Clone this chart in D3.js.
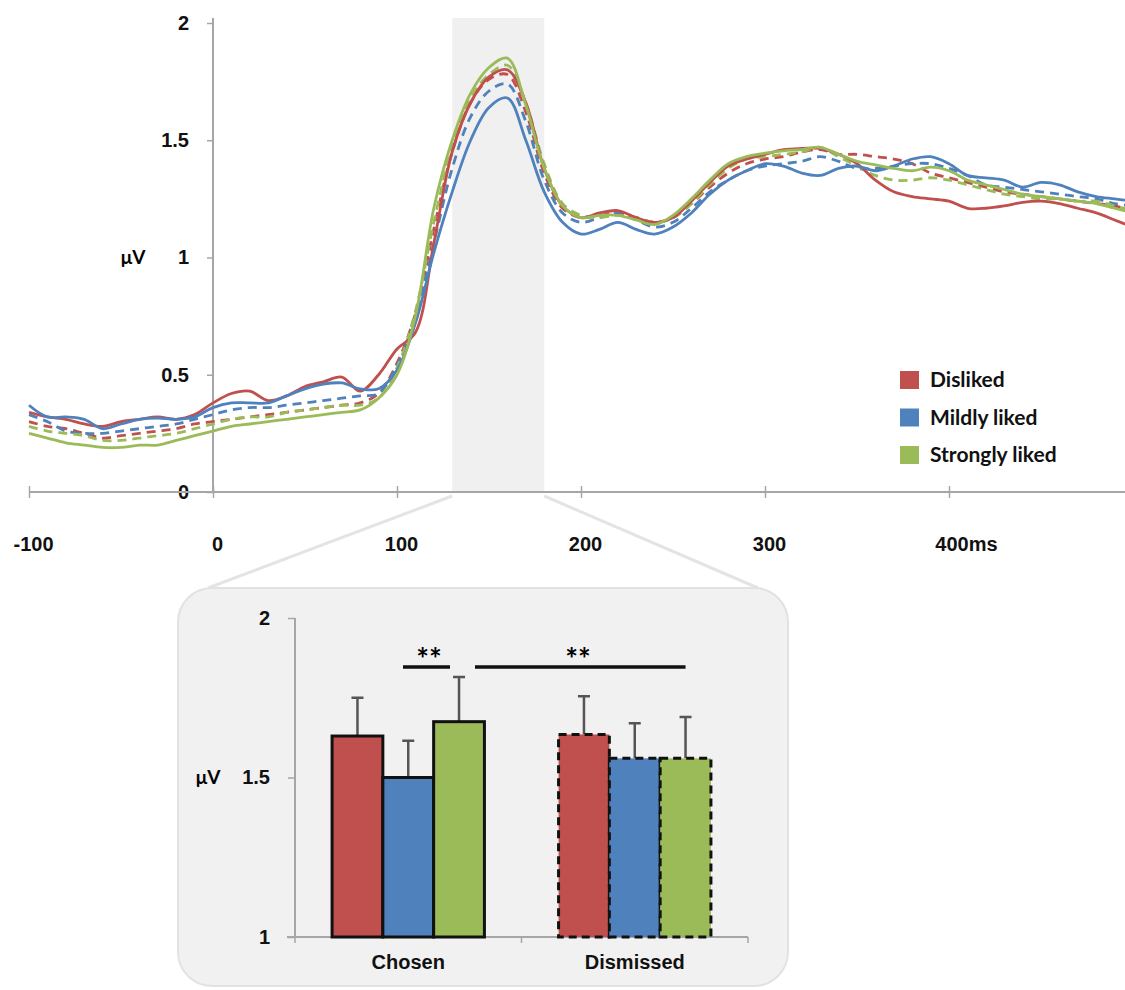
<!DOCTYPE html>
<html>
<head>
<meta charset="utf-8">
<script src="https://cdn.jsdelivr.net/npm/d3@7"></script>
<style>
  body { margin: 0; background: #fff; }
  svg { display: block; font-family: Lato, 'Open Sans', sans-serif; font-weight: bold; }
</style>
</head>
<body>
<div id="chart"></div>
<script>
// ERP time points (ms)
const times = [-100, -90, -80, -70, -60, -50, -40, -30, -20, -10, 0, 10, 20, 30, 40, 50, 60, 70, 80, 90,
  100, 110, 120, 130, 140, 150, 160, 170, 180, 190, 200, 210, 220, 230, 240, 250, 260, 270, 280, 290,
  300, 310, 320, 330, 340, 350, 360, 370, 380, 390, 400, 410, 420, 430, 440, 450, 460, 470, 480, 490, 500]

// chosen (solid)
const dislikedChosen = [0.34, 0.32, 0.31, 0.29, 0.28, 0.30, 0.31, 0.32, 0.31, 0.33, 0.38, 0.42, 0.43, 0.39, 0.41, 0.45, 0.47, 0.49, 0.43, 0.50,
  0.61, 0.68, 1.06, 1.45, 1.66, 1.77, 1.80, 1.66, 1.38, 1.22, 1.17, 1.19, 1.20, 1.17, 1.15, 1.17, 1.24, 1.32, 1.39, 1.42,
  1.44, 1.46, 1.465, 1.465, 1.44, 1.40, 1.33, 1.28, 1.26, 1.25, 1.24, 1.21, 1.21, 1.22, 1.235, 1.24, 1.23, 1.21, 1.19, 1.16, 1.13]
const mildChosen = [0.37, 0.32, 0.32, 0.31, 0.27, 0.29, 0.31, 0.315, 0.31, 0.32, 0.36, 0.38, 0.38, 0.38, 0.41, 0.44, 0.46, 0.465, 0.44, 0.44,
  0.52, 0.72, 1.02, 1.28, 1.50, 1.64, 1.68, 1.50, 1.28, 1.15, 1.10, 1.12, 1.15, 1.12, 1.10, 1.13, 1.19, 1.27, 1.33, 1.37,
  1.40, 1.39, 1.36, 1.35, 1.38, 1.39, 1.37, 1.39, 1.42, 1.43, 1.40, 1.35, 1.34, 1.33, 1.30, 1.32, 1.31, 1.28, 1.26, 1.25, 1.24]
const strongChosen = [0.25, 0.23, 0.21, 0.20, 0.19, 0.19, 0.20, 0.20, 0.22, 0.24, 0.26, 0.28, 0.29, 0.30, 0.31, 0.32, 0.33, 0.34, 0.35, 0.40,
  0.50, 0.75, 1.21, 1.50, 1.70, 1.81, 1.85, 1.65, 1.38, 1.22, 1.17, 1.18, 1.18, 1.16, 1.14, 1.18, 1.25, 1.33, 1.40, 1.43,
  1.445, 1.455, 1.46, 1.47, 1.44, 1.41, 1.395, 1.38, 1.37, 1.385, 1.37, 1.33, 1.31, 1.29, 1.27, 1.26, 1.25, 1.24, 1.23, 1.21, 1.19]

// dismissed (dashed)
const dislikedDismissed = [0.30, 0.28, 0.27, 0.25, 0.23, 0.24, 0.25, 0.26, 0.27, 0.29, 0.30, 0.31, 0.32, 0.33, 0.34, 0.35, 0.36, 0.37, 0.38, 0.42,
  0.55, 0.76, 1.12, 1.45, 1.66, 1.76, 1.78, 1.62, 1.36, 1.21, 1.17, 1.18, 1.19, 1.17, 1.15, 1.17, 1.23, 1.30, 1.36, 1.40,
  1.42, 1.43, 1.45, 1.46, 1.44, 1.44, 1.43, 1.42, 1.40, 1.36, 1.34, 1.32, 1.30, 1.28, 1.27, 1.26, 1.25, 1.24, 1.23, 1.22, 1.20]
const mildDismissed = [0.33, 0.30, 0.26, 0.25, 0.25, 0.26, 0.27, 0.28, 0.29, 0.31, 0.33, 0.35, 0.36, 0.36, 0.37, 0.38, 0.39, 0.40, 0.41, 0.42,
  0.54, 0.74, 1.06, 1.38, 1.60, 1.71, 1.74, 1.58, 1.33, 1.19, 1.15, 1.17, 1.19, 1.16, 1.13, 1.15, 1.21, 1.28, 1.33, 1.37,
  1.39, 1.40, 1.41, 1.43, 1.41, 1.38, 1.38, 1.39, 1.40, 1.40, 1.38, 1.35, 1.31, 1.30, 1.29, 1.28, 1.27, 1.26, 1.25, 1.23, 1.22]
const strongDismissed = [0.28, 0.26, 0.25, 0.24, 0.22, 0.22, 0.23, 0.24, 0.25, 0.27, 0.29, 0.31, 0.32, 0.32, 0.34, 0.35, 0.36, 0.37, 0.37, 0.40,
  0.53, 0.77, 1.15, 1.47, 1.68, 1.78, 1.82, 1.66, 1.40, 1.23, 1.18, 1.17, 1.18, 1.17, 1.15, 1.17, 1.23, 1.31, 1.38, 1.42,
  1.43, 1.44, 1.45, 1.47, 1.43, 1.39, 1.35, 1.33, 1.33, 1.34, 1.33, 1.31, 1.29, 1.27, 1.26, 1.25, 1.25, 1.24, 1.24, 1.22, 1.20]

const categories = ['Disliked', 'Mildly liked', 'Strongly liked']
const colors = ['#c0504d', '#4f81bd', '#9bbb59']
const xTicks = [-100, 0, 100, 200, 300, 400]
const yTicks = [0, 0.5, 1, 1.5, 2]
const window_ms = [130, 180]

// inset bar data (mean amplitude 130-180 ms)
const barGroups = ['Chosen', 'Dismissed']
const chosenMeans = [1.63, 1.50, 1.675]
const chosenErr = [0.12, 0.115, 0.14]
const dismissedMeans = [1.635, 1.56, 1.56]
const dismissedErr = [0.12, 0.11, 0.13]
const barTicks = [1, 1.5, 2]

const width = 1125
const height = 990

const svg = d3.select('#chart')
  .append('svg')
  .attr('width', width)
  .attr('height', height)

const x = d3.scaleLinear().domain([-100, 500]).range([29, 1133])
const y = d3.scaleLinear().domain([0, 2]).range([492, 23])

// shaded analysis window
svg.append('rect')
  .attr('x', x(window_ms[0]))
  .attr('y', 18)
  .attr('width', x(window_ms[1]) - x(window_ms[0]))
  .attr('height', y(0) - 18)
  .attr('fill', '#f0f0f0')

// inset box + connectors
const box = { x: 178, y: 588, w: 610, h: 398 }
svg.append('line')
  .attr('x1', x(window_ms[0])).attr('y1', y(0) + 4)
  .attr('x2', box.x + 30).attr('y2', box.y)
  .attr('stroke', '#e4e4e4').attr('stroke-width', 3)
svg.append('line')
  .attr('x1', x(window_ms[1])).attr('y1', y(0) + 4)
  .attr('x2', box.x + box.w - 30).attr('y2', box.y)
  .attr('stroke', '#e4e4e4').attr('stroke-width', 3)
svg.append('rect')
  .attr('x', box.x).attr('y', box.y)
  .attr('width', box.w).attr('height', box.h)
  .attr('rx', 34)
  .attr('fill', '#f1f1f1')
  .attr('stroke', '#e2e2e2')
  .attr('stroke-width', 2)

// axes (top chart)
const yAxis = svg.append('g')
  .attr('transform', `translate(${x(0)},0)`)
  .call(d3.axisLeft(y).tickValues(yTicks).tickSize(6).tickPadding(18).tickFormat(d => d))
yAxis.select('.domain').attr('stroke', '#a6a6a6').attr('stroke-width', 2).attr('d', `M0,18V${y(0)}`)
yAxis.selectAll('.tick line').attr('stroke', '#a6a6a6').attr('stroke-width', 1.5)
yAxis.selectAll('.tick text').style('font-size', '20px').attr('fill', '#111')
svg.append('text')
  .attr('x', 133).attr('y', y(1))
  .attr('dy', '0.35em')
  .attr('text-anchor', 'middle')
  .style('font-size', '19px')
  .text('μV')

const xAxis = svg.append('g')
  .attr('transform', `translate(0,${y(0)})`)
  .call(d3.axisBottom(x).tickValues(xTicks).tickSize(6).tickPadding(39)
    .tickFormat(d => d === 400 ? '400ms' : d))
xAxis.select('.domain').attr('stroke', '#a6a6a6').attr('stroke-width', 2).attr('d', `M${x(-100)},0H${width}`)
xAxis.selectAll('.tick line').attr('stroke', '#a6a6a6').attr('stroke-width', 1.5).attr('y1', -6)
xAxis.selectAll('.tick text')
  .style('font-size', '20px').attr('fill', '#111')
  .attr('dx', d => d === 400 ? 17 : 4)

// ERP lines
const line = d3.line()
  .x((d, i) => x(times[i]))
  .y(d => y(d))
  .curve(d3.curveCatmullRom.alpha(0.5))

const chosenSeries = [dislikedChosen, mildChosen, strongChosen]
const dismissedSeries = [dislikedDismissed, mildDismissed, strongDismissed]

const plot = svg.append('g')
svg.append('clipPath').attr('id', 'clip')
  .append('rect').attr('x', 0).attr('y', 0).attr('width', width).attr('height', y(0))
plot.attr('clip-path', 'url(#clip)')

plot.selectAll('.dismissed')
  .data(dismissedSeries)
  .enter()
  .append('path')
  .attr('class', 'dismissed')
  .attr('d', d => line(d))
  .attr('fill', 'none')
  .attr('stroke', (d, i) => colors[i])
  .attr('stroke-width', 2.8)
  .attr('stroke-dasharray', '9,6')

plot.selectAll('.chosen')
  .data(chosenSeries)
  .enter()
  .append('path')
  .attr('class', 'chosen')
  .attr('d', d => line(d))
  .attr('fill', 'none')
  .attr('stroke', (d, i) => colors[i])
  .attr('stroke-width', 2.8)

// legend
const legend = svg.append('g').attr('transform', 'translate(900,380)')
legend.selectAll('rect')
  .data(categories)
  .enter()
  .append('rect')
  .attr('x', 0)
  .attr('y', (d, i) => i * 37.5 - 9)
  .attr('width', 19)
  .attr('height', 18)
  .attr('fill', (d, i) => colors[i])
legend.selectAll('text')
  .data(categories)
  .enter()
  .append('text')
  .attr('x', 30)
  .attr('y', (d, i) => i * 37.5)
  .attr('dy', '0.35em')
  .style('font-size', '21px')
  .attr('fill', '#111')
  .text(d => d)

// ---- inset bar chart ----
const x0 = d3.scaleBand().domain(barGroups).range([295, 748])
const x1 = d3.scaleBand().domain(categories).range([0, x0.bandwidth()]).paddingOuter(0.73)
const yb = d3.scaleLinear().domain([1, 2]).range([937, 618])

const ybAxis = svg.append('g')
  .attr('transform', 'translate(295,0)')
  .call(d3.axisLeft(yb).tickValues(barTicks).tickSize(7).tickPadding(18).tickFormat(d => d))
ybAxis.select('.domain').attr('stroke', '#a6a6a6').attr('stroke-width', 2).attr('d', `M0,${yb(2)}V${yb(1)}`)
ybAxis.selectAll('.tick line').attr('stroke', '#a6a6a6').attr('stroke-width', 1.5)
ybAxis.selectAll('.tick text').style('font-size', '20px').attr('fill', '#111')
svg.append('text')
  .attr('x', 208).attr('y', yb(1.5))
  .attr('dy', '0.35em')
  .attr('text-anchor', 'middle')
  .style('font-size', '19px')
  .text('μV')

const xbAxis = svg.append('g')
  .attr('transform', `translate(0,${yb(1)})`)
  .call(d3.axisBottom(x0).tickSize(0).tickPadding(18))
xbAxis.select('.domain').attr('stroke', '#a6a6a6').attr('stroke-width', 2).attr('d', `M287,0H748`)
xbAxis.selectAll('.tick text').style('font-size', '20px').attr('fill', '#111')
xbAxis.selectAll('.sep')
  .data([x0.range()[0], x0(barGroups[1]), x0.range()[1]])
  .enter()
  .append('line')
  .attr('x1', d => d).attr('x2', d => d)
  .attr('y1', 0).attr('y2', 6)
  .attr('stroke', '#a6a6a6').attr('stroke-width', 1.5)

const barData = [
  { group: 'Chosen', means: chosenMeans, errs: chosenErr, dash: null },
  { group: 'Dismissed', means: dismissedMeans, errs: dismissedErr, dash: '8,5' }
]

barData.forEach(function(g) {
  const gx = x0(g.group)
  const bars = g.means.map((m, i) => ({ cat: categories[i], mean: m, err: g.errs[i], color: colors[i] }))

  // error bars (upper only)
  svg.selectAll(null)
    .data(bars)
    .enter()
    .append('path')
    .attr('d', d => {
      const cx = gx + x1(d.cat) + x1.bandwidth() / 2
      return `M${cx},${yb(d.mean)}V${yb(d.mean + d.err)}M${cx - 6},${yb(d.mean + d.err)}H${cx + 6}`
    })
    .attr('stroke', '#555')
    .attr('stroke-width', 2.5)
    .attr('fill', 'none')

  svg.selectAll(null)
    .data(bars)
    .enter()
    .append('rect')
    .attr('x', d => gx + x1(d.cat))
    .attr('y', d => yb(d.mean))
    .attr('width', x1.bandwidth())
    .attr('height', d => yb(1) - yb(d.mean))
    .attr('fill', d => d.color)
    .attr('stroke', '#111')
    .attr('stroke-width', 3)
    .attr('stroke-dasharray', g.dash)
})

// significance markers
const barCenter = (grp, cat) => x0(grp) + x1(cat) + x1.bandwidth() / 2
const sigY = 667
svg.append('line')
  .attr('x1', 403).attr('x2', 450)
  .attr('y1', sigY).attr('y2', sigY)
  .attr('stroke', '#111').attr('stroke-width', 3.5)
svg.append('line')
  .attr('x1', 475).attr('x2', barCenter('Dismissed', 'Strongly liked'))
  .attr('y1', sigY).attr('y2', sigY)
  .attr('stroke', '#111').attr('stroke-width', 3.5)
svg.append('text')
  .attr('x', 429).attr('y', sigY + 3)
  .attr('text-anchor', 'middle')
  .style('font-size', '30px')
  .text('**')
svg.append('text')
  .attr('x', 578).attr('y', sigY + 3)
  .attr('text-anchor', 'middle')
  .style('font-size', '30px')
  .text('**')
</script>
</body>
</html>
